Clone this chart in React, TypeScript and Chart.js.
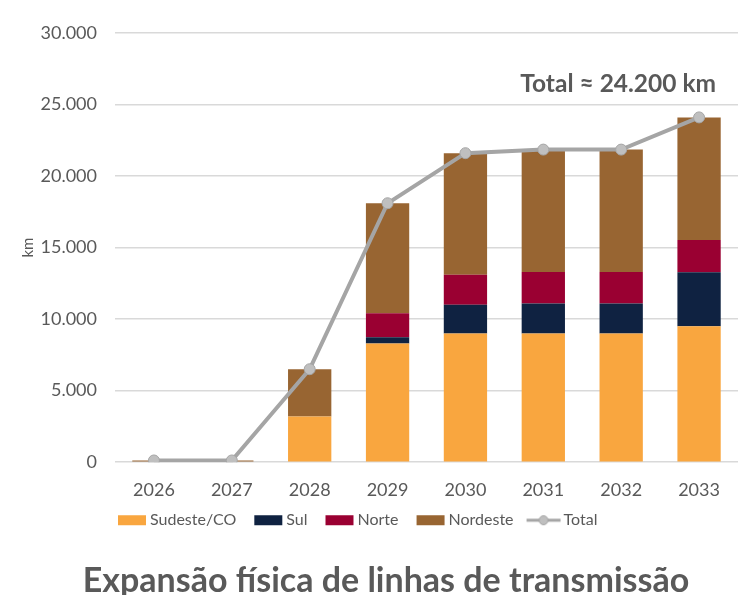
import React, { useEffect, useRef } from "react";
import { Chart, registerables } from "chart.js";

Chart.register(...registerables);

const years = ["2026", "2027", "2028", "2029", "2030", "2031", "2032", "2033"];
const sudesteCO = [0, 0, 3200, 8300, 9000, 9000, 9000, 9500];
const sul = [0, 0, 0, 430, 2000, 2100, 2100, 3780];
const norte = [0, 0, 0, 1680, 2100, 2200, 2200, 2250];
const nordeste = [120, 120, 3300, 7690, 8500, 8550, 8550, 8570];
const totalKm = [120, 120, 6500, 18100, 21600, 21850, 21850, 24100];
const yTicks = [0, 5000, 10000, 15000, 20000, 25000, 30000];
const totalNote = "Total ≈ 24.200 km";
const chartTitle = "Expansão física de linhas de transmissão";
const yTitle = "km";

const FONT = 'Lato, "Open Sans", sans-serif';
const TEXT = "#595959";
const COLORS = {
  sudeste: "#F9A63F",
  sul: "#0F2241",
  norte: "#9A0032",
  nordeste: "#986532",
  total: "#A5A5A5",
  totalPoint: "#BFBFBF",
};

function fmt(v: number): string {
  return String(v).replace(/\B(?=(\d{3})+(?!\d))/g, ".");
}

// legend icons: 40x14 canvas centred at item x + 12 (so image x=8 is item x)
function rectIcon(color: string): HTMLCanvasElement {
  const c = document.createElement("canvas");
  c.width = 40;
  c.height = 14;
  const ctx = c.getContext("2d")!;
  ctx.fillStyle = color;
  ctx.fillRect(8, 2, 28, 10);
  return c;
}
function lineIcon(): HTMLCanvasElement {
  const c = document.createElement("canvas");
  c.width = 40;
  c.height = 14;
  const ctx = c.getContext("2d")!;
  ctx.strokeStyle = COLORS.total;
  ctx.lineWidth = 3;
  ctx.beginPath();
  ctx.moveTo(3, 7);
  ctx.lineTo(37, 7);
  ctx.stroke();
  ctx.beginPath();
  ctx.arc(20, 7, 4.5, 0, Math.PI * 2);
  ctx.fillStyle = COLORS.totalPoint;
  ctx.fill();
  ctx.lineWidth = 1;
  ctx.stroke();
  return c;
}

const notePlugin = {
  id: "totalNote",
  afterLayout(chart: any) {
    const lg = chart.legend;
    if (lg) {
      lg.left -= 15;
      lg.right -= 15;
      lg.top -= 8;
      lg.bottom -= 8;
    }
    const tb = chart.titleBlock;
    if (tb) {
      tb.left += 17;
      tb.right += 17;
    }
  },
  afterDatasetsDraw(chart: any) {
    const { ctx, scales } = chart;
    const x = scales.x.getPixelForValue(7) + 17;
    const y = scales.y.getPixelForValue(26400);
    ctx.save();
    ctx.font = `bold 24.5px ${FONT}`;
    ctx.fillStyle = TEXT;
    ctx.textAlign = "right";
    ctx.textBaseline = "middle";
    ctx.fillText(totalNote, x, y);
    ctx.restore();
  },
};

export default function App() {
  const ref = useRef<HTMLCanvasElement>(null);

  useEffect(() => {
    if (!ref.current) return;
    const icons = [
      rectIcon(COLORS.sudeste),
      rectIcon(COLORS.sul),
      rectIcon(COLORS.norte),
      rectIcon(COLORS.nordeste),
      lineIcon(),
    ];
    const chart = new Chart(ref.current, {
      type: "bar",
      data: {
        labels: years,
        datasets: [
          { label: "Sudeste/CO", data: sudesteCO, backgroundColor: COLORS.sudeste, order: 1, stack: "bars" },
          { label: "Sul", data: sul, backgroundColor: COLORS.sul, order: 1, stack: "bars" },
          { label: "Norte", data: norte, backgroundColor: COLORS.norte, order: 1, stack: "bars" },
          { label: "Nordeste", data: nordeste, backgroundColor: COLORS.nordeste, order: 1, stack: "bars" },
          {
            type: "line",
            label: "Total",
            data: totalKm,
            borderColor: COLORS.total,
            borderWidth: 4,
            pointRadius: 5.5,
            pointBackgroundColor: COLORS.totalPoint,
            pointBorderColor: COLORS.total,
            pointBorderWidth: 1,
            tension: 0,
            order: 0,
            stack: "line",
          } as any,
        ],
      },
      options: {
        animation: false,
        responsive: false,
        devicePixelRatio: 1,
        layout: { padding: { top: 33, left: 0, right: 11, bottom: 0 } },
        datasets: { bar: { barPercentage: 0.556, categoryPercentage: 1 } },
        scales: {
          x: {
            stacked: true,
            grid: { display: false, drawTicks: false },
            border: { display: false },
            ticks: { color: TEXT, font: { family: FONT, size: 18 }, padding: 17 },
            afterFit: (s: any) => {
              s.height = 40;
            },
          },
          y: {
            stacked: true,
            min: 0,
            max: 30000,
            afterBuildTicks: (s: any) => {
              s.ticks = yTicks.map((v) => ({ value: v }));
            },
            grid: { color: "#D9D9D9", lineWidth: 1.5, drawTicks: false },
            border: { display: false },
            ticks: {
              color: TEXT,
              font: { family: FONT, size: 18 },
              padding: 18,
              callback: (v: any) => fmt(Number(v)),
            },
            title: {
              display: true,
              text: yTitle,
              color: TEXT,
              font: { family: FONT, size: 15 },
              padding: { top: 19, bottom: 0 },
            },
            afterFit: (s: any) => {
              s.width = 115;
            },
          },
        },
        plugins: {
          tooltip: { enabled: false },
          legend: {
            position: "bottom",
            fullSize: false,
            align: "start",
            labels: {
              usePointStyle: true,
              pointStyleWidth: 24,
              boxHeight: 10,
              padding: 18,
              color: TEXT,
              font: { family: FONT, size: 16 },
              generateLabels: (ch: any) =>
                ch.data.datasets.map((ds: any, i: number) => ({
                  text: ds.label,
                  pointStyle: icons[i],
                  datasetIndex: i,
                  hidden: !ch.isDatasetVisible(i),
                  fillStyle: "transparent",
                  strokeStyle: "transparent",
                  lineWidth: 0,
                  fontColor: TEXT,
                })),
            },
          },
          title: {
            display: true,
            position: "bottom",
            text: chartTitle,
            color: TEXT,
            font: { family: FONT, size: 34, weight: "bold" },
            padding: { top: 14, bottom: -6 },
          },
        },
      },
      plugins: [notePlugin],
    });
    return () => chart.destroy();
  }, []);

  return (
    <div style={{ position: "absolute", left: 0, top: 0, width: 749, height: 595, background: "#fff" }}>
      <canvas ref={ref} width={749} height={595} />
    </div>
  );
}
